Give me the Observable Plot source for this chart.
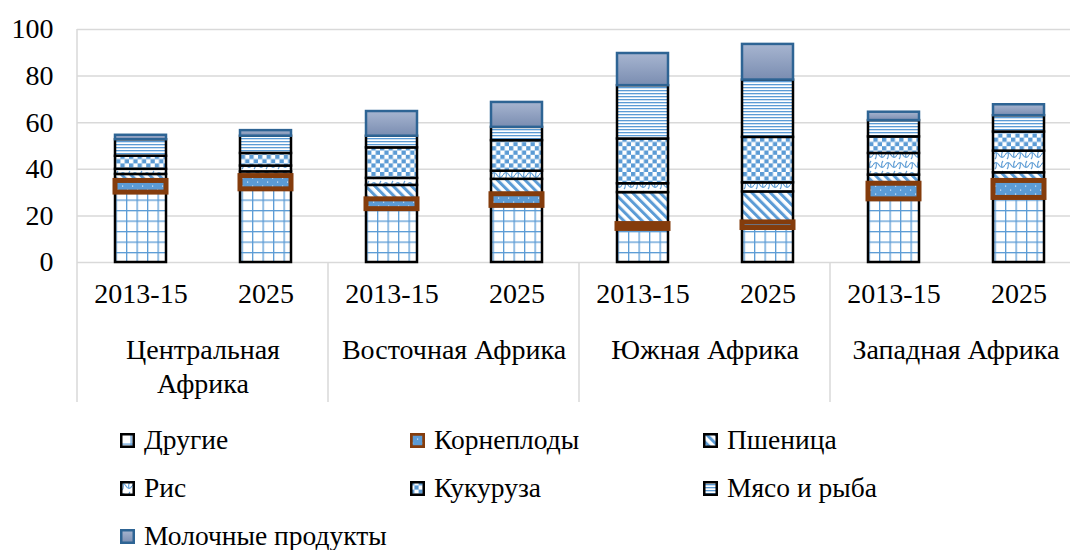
<!DOCTYPE html>
<html><head><meta charset="utf-8">
<script src="https://cdn.jsdelivr.net/npm/d3@7"></script>
<script src="https://cdn.jsdelivr.net/npm/@observablehq/plot@0.6"></script>
<style>
html,body{margin:0;padding:0;background:#fff;}
body{width:1070px;height:550px;overflow:hidden;font-family:"Liberation Serif","Times New Roman",serif;color:#000;}
#chart svg{display:block;overflow:visible;}
#legend{position:relative;width:1070px;height:145px;}
.item{position:absolute;display:flex;align-items:center;height:30px;font-family:"Liberation Serif","Times New Roman",serif;font-size:27.5px;white-space:nowrap;}
.item svg{width:15px;height:15px;margin-right:9px;flex:none;}
</style></head><body>
<div id="chart"></div>
<div id="legend"></div>
<script>
// ---- data ----
const regions = ["Центральная Африка", "Восточная Африка", "Южная Африка", "Западная Африка"];
const regionLabels = ["Центральная\nАфрика", "Восточная Африка", "Южная Африка", "Западная Африка"];
const periods = ["2013-15", "2025"];
const series = ["Другие", "Корнеплоды", "Пшеница", "Рис", "Кукуруза", "Мясо и рыба", "Молочные продукты"];
// values in bar order: Ц 2013-15, Ц 2025, В 2013-15, В 2025, Ю 2013-15, Ю 2025, З 2013-15, З 2025
const others = [30.0, 31.4, 22.9, 24.3, 14.4, 14.8, 27.1, 27.7];
const roots  = [5.0, 5.7, 4.2, 5.0, 2.1, 2.4, 6.7, 7.3];
const wheat  = [2.8, 1.8, 6.0, 6.4, 13.5, 13.1, 3.7, 3.5];
const rice   = [2.2, 2.5, 3.0, 3.5, 3.8, 3.9, 9.3, 9.3];
const maize  = [5.6, 5.4, 13.1, 13.1, 19.2, 19.5, 7.1, 8.2];
const meat   = [7.1, 7.4, 5.0, 5.7, 22.9, 24.6, 7.0, 7.0];
const dairy  = [1.9, 2.4, 10.6, 10.7, 13.8, 15.3, 3.6, 4.7];
const yTicks = [0, 20, 40, 60, 80, 100];

const valuesBySeries = [others, roots, wheat, rice, maize, meat, dairy];

// ---- styles ----
const FONT = "'Liberation Serif', 'Times New Roman', serif";
const styleOf = {
  "Другие":            {fill: "url(#pOthers)", stroke: "#000", sw: 2.5},
  "Корнеплоды":        {fill: "url(#pRoots)",  stroke: "#843c0c", sw: 5},
  "Пшеница":           {fill: "url(#pWheat)",  stroke: "#000", sw: 2.5},
  "Рис":               {fill: "url(#pRice)",   stroke: "#000", sw: 2.5},
  "Кукуруза":          {fill: "url(#pMaize)",  stroke: "#000", sw: 2.5},
  "Мясо и рыба":       {fill: "url(#pMeat)",   stroke: "#000", sw: 2.5},
  "Молочные продукты": {fill: "url(#gDairy)",  stroke: "#2e6494", sw: 2.5}
};
const drawOrder = ["Другие", "Пшеница", "Рис", "Кукуруза", "Мясо и рыба", "Молочные продукты", "Корнеплоды"];

// ---- table ----
const rows = [];
const combos = [];
regions.forEach((r, ri) => periods.forEach((p, pi) => {
  const k = ri * 2 + pi;
  combos.push({region: r, period: p});
  let acc = 0;
  series.forEach((s, si) => {
    const v = valuesBySeries[si][k];
    rows.push({region: r, period: p, series: s, y1: acc, y2: acc + v, value: v});
    acc += v;
  });
}));

const chart = Plot.plot({
  width: 1070, height: 405,
  marginLeft: 77, marginRight: -11, marginTop: 29, marginBottom: 143,
  style: {fontFamily: FONT, fontSize: "28px", color: "#000", background: "transparent", overflow: "visible"},
  fx: {domain: regions, padding: 0, axis: null},
  x: {domain: periods, paddingInner: 0.594, paddingOuter: 0.297, axis: null},
  y: {domain: [0, 100], ticks: yTicks, tickSize: 0, tickPadding: 24, label: null, tickFormat: d => String(d)},
  marks: [
    Plot.ruleY(yTicks, {stroke: "#d9d9d9", strokeWidth: 1.5}),
    ...drawOrder.map(s => Plot.barY(rows.filter(d => d.series === s), {
      fx: "region", x: "period", y1: "y1", y2: "y2",
      fill: styleOf[s].fill, stroke: styleOf[s].stroke, strokeWidth: styleOf[s].sw
    })),
    Plot.text(combos, {fx: "region", x: "period", text: "period", frameAnchor: "bottom", dy: 40, fontSize: 28, fill: "#000"}),
    Plot.text(regions, {fx: d => d, text: (d, i) => regionLabels[i], frameAnchor: "bottom", lineAnchor: "top", dy: 73, lineHeight: 1.2, fontSize: 28, fill: "#000"})
  ]
});
document.getElementById("chart").appendChild(chart);

// ---- pattern definitions ----
const svg = d3.select(chart);
svg.selectAll("text").style("font-family", FONT);
const defs = svg.insert("defs", ":first-child");
const blue = "#5b9bd5";
let p = defs.append("pattern").attr("id", "pOthers").attr("patternUnits", "userSpaceOnUse").attr("width", 10.5).attr("height", 10.5);
p.append("rect").attr("width", 10.5).attr("height", 10.5).attr("fill", "#fff");
p.append("rect").attr("x", 0).attr("y", 0).attr("width", 1.3).attr("height", 10.5).attr("fill", blue);
p.append("rect").attr("x", 0).attr("y", 0).attr("width", 10.5).attr("height", 1.3).attr("fill", blue);

p = defs.append("pattern").attr("id", "pRoots").attr("patternUnits", "userSpaceOnUse").attr("width", 10).attr("height", 8);
p.append("rect").attr("width", 10).attr("height", 8).attr("fill", blue);
p.append("rect").attr("x", 2).attr("y", 1.5).attr("width", 1.2).attr("height", 1.2).attr("fill", "#dbe8f5");
p.append("rect").attr("x", 7).attr("y", 5.5).attr("width", 1.2).attr("height", 1.2).attr("fill", "#dbe8f5");

p = defs.append("pattern").attr("id", "pWheat").attr("patternUnits", "userSpaceOnUse").attr("width", 6.5).attr("height", 6.5).attr("patternTransform", "rotate(-45)");
p.append("rect").attr("width", 6.5).attr("height", 6.5).attr("fill", "#fff");
p.append("rect").attr("x", 0).attr("width", 3).attr("height", 6.5).attr("fill", blue);

p = defs.append("pattern").attr("id", "pRice").attr("patternUnits", "userSpaceOnUse").attr("width", 12).attr("height", 10);
p.append("rect").attr("width", 12).attr("height", 10).attr("fill", "#fff");
p.append("path").attr("d", "M0 5 Q3 0 6 5 Q9 10 12 5 M3 2.5 Q4 7 2 9 M9 7.5 Q8 3 10 1").attr("fill", "none").attr("stroke", blue).attr("stroke-width", 1.1);

p = defs.append("pattern").attr("id", "pMaize").attr("patternUnits", "userSpaceOnUse").attr("width", 8.6).attr("height", 8.6);
p.append("rect").attr("width", 8.6).attr("height", 8.6).attr("fill", "#fff");
p.append("rect").attr("x", 0).attr("y", 0).attr("width", 4.3).attr("height", 4.3).attr("fill", blue);
p.append("rect").attr("x", 4.3).attr("y", 4.3).attr("width", 4.3).attr("height", 4.3).attr("fill", blue);

p = defs.append("pattern").attr("id", "pMeat").attr("patternUnits", "userSpaceOnUse").attr("width", 4).attr("height", 3);
p.append("rect").attr("width", 4).attr("height", 3).attr("fill", "#fff");
p.append("rect").attr("y", 0).attr("width", 4).attr("height", 1.3).attr("fill", blue);

const g = defs.append("linearGradient").attr("id", "gDairy").attr("x1", 0).attr("y1", 0).attr("x2", 0).attr("y2", 1);
g.append("stop").attr("offset", "0%").attr("stop-color", "#a7b5d0");
g.append("stop").attr("offset", "100%").attr("stop-color", "#7a8db1");

// ---- category separators (from the fx / y scales) ----
const fxS = chart.scale("fx"), yS = chart.scale("y");
const y0 = yS.apply(0), yTop = yS.apply(100);
const sepG = svg.append("g").attr("stroke", "#d9d9d9").attr("stroke-width", 1.5);
regions.forEach((r, i) => {
  const xx = fxS.apply(r);
  sepG.append("line").attr("x1", xx).attr("x2", xx).attr("y1", i === 0 ? yTop : y0).attr("y2", y0 + 140);
});

// ---- legend ----
const legendCols = [120, 410, 703];
const legendRows = [20, 68, 116];
const leg = d3.select("#legend");
series.forEach((s, i) => {
  const st = styleOf[s];
  const item = leg.append("div").attr("class", "item")
    .style("left", legendCols[i % 3] + "px").style("top", legendRows[Math.floor(i / 3)] + "px");
  const sw = item.append("svg").attr("viewBox", "0 0 15 15");
  sw.append("rect").attr("x", 1.25).attr("y", 1.25).attr("width", 12.5).attr("height", 12.5)
    .attr("fill", st.fill).attr("stroke", st.stroke).attr("stroke-width", s === "Корнеплоды" ? 3 : 2.5);
  item.append("span").text(s);
});
</script>
</body></html>
